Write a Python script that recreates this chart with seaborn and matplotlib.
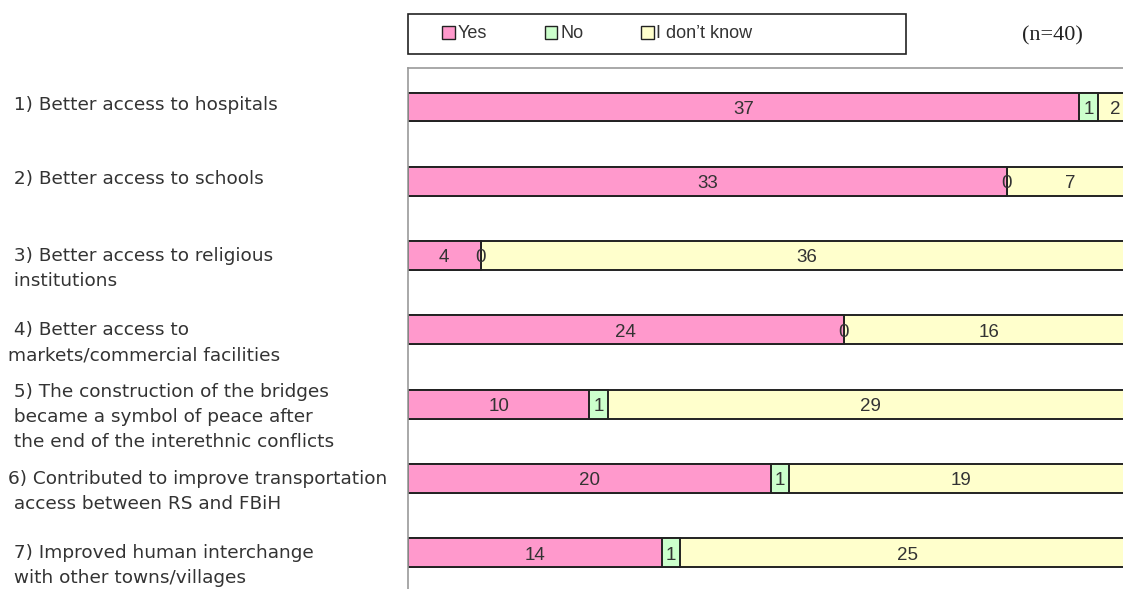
import pandas as pd
import matplotlib.pyplot as plt
import seaborn as sns
from matplotlib.patches import Patch, Rectangle
from matplotlib.transforms import blended_transform_factory

# survey answers per item (n=40)
items = [
    " 1) Better access to hospitals",
    " 2) Better access to schools",
    " 3) Better access to religious\n institutions",
    " 4) Better access to\nmarkets/commercial facilities",
    " 5) The construction of the bridges\n became a symbol of peace after\n the end of the interethnic conflicts",
    "6) Contributed to improve transportation\n access between RS and FBiH",
    " 7) Improved human interchange\n with other towns/villages",
]
yes = [37, 33, 4, 24, 10, 20, 14]
no = [1, 0, 0, 0, 1, 1, 1]
dont_know = [2, 7, 36, 16, 29, 19, 25]
series_names = ["Yes", "No", "I don\u2019t know"]
colors = ["#FF99CC", "#CCFFCC", "#FFFFCC"]

df = pd.DataFrame({"item": items, "Yes": yes, "No": no, "DK": dont_know})
df["yes_no"] = df["Yes"] + df["No"]
df["total"] = df["yes_no"] + df["DK"]

sns.set_style("white")
plt.rcParams["font.family"] = ["Liberation Sans", "DejaVu Sans"]

fig = plt.figure(figsize=(11.23, 5.89), dpi=100)
ax = fig.add_axes([408 / 1123, 0, 715 / 1123, 521 / 589])

# stacked bars drawn back to front
edge = dict(edgecolor="#222222", linewidth=1.4)
sns.barplot(data=df, x="total", y="item", color=colors[2], width=0.39, ax=ax, saturation=1, **edge)
sns.barplot(data=df, x="yes_no", y="item", color=colors[1], width=0.39, ax=ax, saturation=1, **edge)
sns.barplot(data=df, x="Yes", y="item", color=colors[0], width=0.39, ax=ax, saturation=1, **edge)

ax.set_xlim(0, 39.4)
ax.set_ylim(6.487, -0.525)
ax.set_xlabel("")
ax.set_ylabel("")
ax.set_xticks([])
ax.set_yticks([])
for s in ["right", "bottom"]:
    ax.spines[s].set_visible(False)
for s in ["left", "top"]:
    ax.spines[s].set_color("#999999")
    ax.spines[s].set_linewidth(1.2)

# value labels centered in each segment
for i, row in df.iterrows():
    centers = [row["Yes"] / 2, row["Yes"] + row["No"] / 2, row["yes_no"] + row["DK"] / 2]
    for c, v in zip(centers, [row["Yes"], row["No"], row["DK"]]):
        ax.text(c, i + 0.03, str(v), ha="center", va="center", fontsize=13.5,
                color="#333333")

# category labels at left (multi-line labels sit a little lower)
trans = blended_transform_factory(fig.transFigure, ax.transData)
for i, lab in enumerate(items):
    shift = 0.17 if "\n" in lab else -0.03
    ax.text(8 / 1123, i + shift, lab, transform=trans, ha="left", va="center",
            fontsize=13.3, color="#333333", linespacing=1.5, family="DejaVu Sans")

# legend with wide frame
fig.patches.append(Rectangle((408 / 1123, 1 - 54 / 589), 498 / 1123, 40 / 589,
                             transform=fig.transFigure, fill=False, edgecolor="#222222", linewidth=1.2))
handles = [Patch(facecolor=c, edgecolor="#222222", linewidth=1.0) for c in colors]
fig.legend(handles, series_names, loc="center left", bbox_to_anchor=(426 / 1123, 1 - 34 / 589),
           ncol=3, frameon=False, fontsize=13, handlelength=0.7, handleheight=0.7,
           handletextpad=0.15, columnspacing=3.2, labelcolor="#333333")

fig.text(1052 / 1123, 1 - 36 / 589, "(n=40)", ha="center", va="center", fontsize=16,
         family="Liberation Serif", color="#222222")

fig.savefig("out.png", dpi=100)
